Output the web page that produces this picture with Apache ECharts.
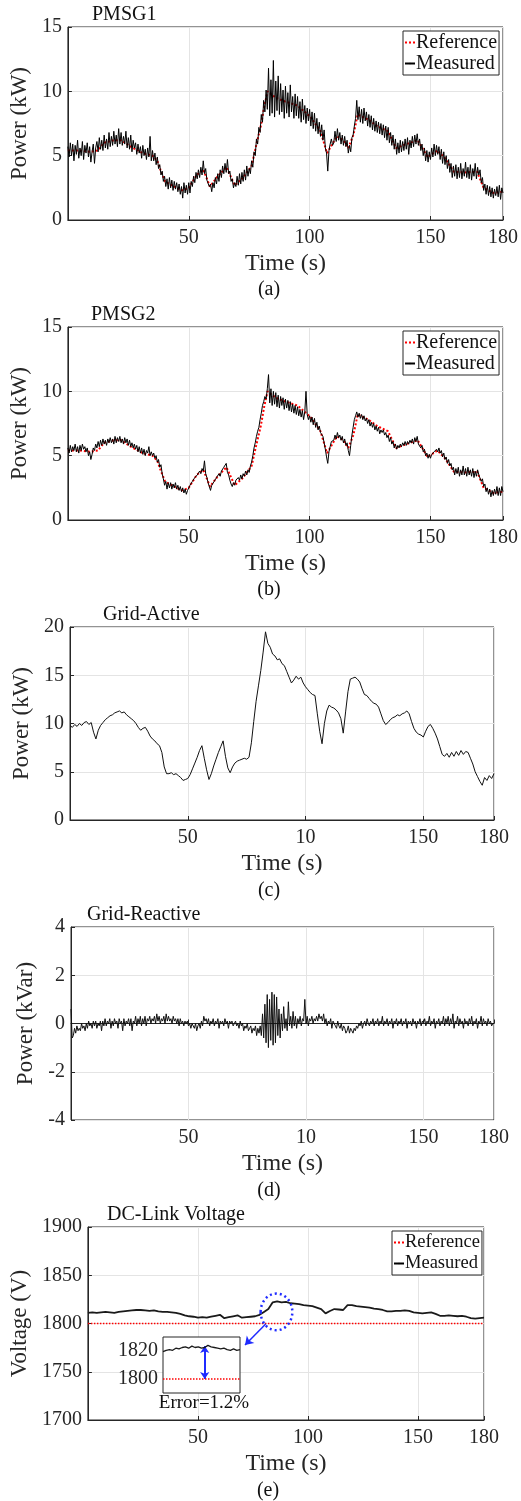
<!DOCTYPE html>
<html>
<head>
<meta charset="utf-8">
<script src="https://cdn.jsdelivr.net/npm/echarts@6/dist/echarts.min.js"></script>
<style>
  html, body { margin: 0; padding: 0; background: #fff; }
  #main { width: 521px; height: 1501px; }
</style>
</head>
<body>
<div id="main"></div>
<script>
// sample spacing of the traces (s)
const NOISY_STEP = 0.5;   // PMSG1, PMSG2, reactive
const ACTIVE_STEP = 1;    // grid active
const DC_STEP = 2;

// PMSG power reference (same for both generators)
const pmsgRefTime  = [0, 5, 9, 12.4, 15, 19, 22, 26, 31, 35, 37, 38.3, 40.2, 42, 45, 47.2, 50, 53.3, 56, 58.8, 62, 65.6, 69, 72, 74.5, 76, 77.9, 79.8, 81.2, 82.6, 86, 90, 95, 100.4, 104.5, 107.2, 111.3, 114, 116, 118.1, 119.9, 124.3, 128, 132.4, 135.8, 140, 144.7, 148.8, 152.9, 156, 159.7, 164, 169.3, 172, 176, 180];
const pmsgRefPower = [5.4, 5.4, 5.3, 5.4, 6.0, 6.2, 6.2, 5.7, 5.2, 5.0, 4.6, 3.9, 3.0, 2.8, 2.5, 2.3, 2.5, 3.5, 3.9, 2.6, 3.4, 4.1, 2.7, 3.2, 3.8, 4.2, 5.8, 7.3, 8.8, 10.0, 9.5, 9.2, 8.9, 8.0, 6.9, 5.2, 6.5, 6.2, 5.6, 6.6, 8.2, 7.8, 7.3, 6.9, 5.6, 5.9, 6.2, 4.9, 5.4, 4.8, 3.75, 3.7, 3.75, 2.5, 2.1, 2.2];

// measured PMSG1 power, kW, every 0.5 s (one row = 5 s)
const pmsg1Measured = [
  5.7, 4.9, 6.0, 5.0, 5.9, 4.6, 5.8, 5.1, 6.2, 4.8,
  5.6, 5.0, 6.1, 4.7, 5.8, 5.2, 6.0, 4.9, 5.7, 4.5,
  5.3, 5.9, 4.4, 5.6, 6.1, 5.3, 6.4, 5.5, 6.2, 5.4,
  6.6, 5.6, 6.3, 5.5, 6.8, 5.7, 6.5, 5.8, 6.9, 5.9,
  6.6, 5.7, 7.1, 5.9, 6.8, 5.8, 6.5, 5.9, 6.9, 5.6,
  6.4, 5.5, 6.6, 5.3, 6.2, 5.6, 6.0, 5.1, 5.9, 5.2,
  5.7, 4.8, 5.8, 5.0, 5.5, 4.7, 5.6, 4.9, 6.5, 4.6,
  5.4, 4.6, 5.2, 4.3, 4.9, 4.0, 4.3, 3.5, 3.8, 3.0,
  3.4, 2.6, 3.2, 2.4, 3.3, 2.5, 3.1, 2.3, 3.0, 2.4,
  2.9, 2.2, 2.8, 2.0, 2.6, 1.7, 2.9, 2.1, 2.7, 2.0,
  2.9, 2.1, 3.0, 2.6, 3.4, 2.9, 3.7, 3.2, 3.9, 3.3,
  4.1, 3.5, 4.6, 3.6, 4.0, 3.1, 3.2, 2.6, 2.8, 2.2,
  2.9, 2.5, 3.3, 2.8, 3.6, 3.0, 3.9, 3.3, 4.2, 3.6,
  4.4, 3.7, 4.7, 3.6, 3.8, 3.0, 3.2, 2.5, 2.9, 2.6,
  3.4, 2.7, 3.6, 2.8, 3.7, 3.0, 3.9, 3.1, 4.2, 3.4,
  4.0, 3.6, 4.6, 4.1, 5.3, 5.0, 6.3, 5.9, 7.2, 6.8,
  8.2, 7.6, 9.3, 8.4, 10.1, 8.6, 11.8, 8.1, 10.9, 8.3,
  12.4, 8.0, 10.8, 8.5, 11.2, 8.2, 10.6, 8.4, 10.1, 7.9,
  10.4, 8.3, 9.9, 8.0, 10.5, 8.4, 9.6, 7.9, 9.8, 8.1,
  9.6, 7.9, 9.2, 7.6, 9.4, 7.8, 8.9, 7.5, 8.7, 7.7,
  8.6, 7.3, 8.4, 7.1, 8.3, 6.9, 7.9, 6.7, 7.6, 6.5,
  7.4, 6.2, 7.0, 5.6, 5.2, 3.8, 5.4, 5.9, 6.3, 5.8,
  6.0, 6.9, 6.1, 7.1, 6.2, 6.8, 5.9, 6.6, 5.8, 6.5,
  5.7, 6.2, 5.2, 5.8, 5.3, 6.4, 6.6, 7.3, 7.9, 9.3,
  7.8, 8.8, 7.6, 8.6, 7.5, 8.7, 7.7, 8.4, 7.3, 8.2,
  7.2, 8.1, 7.0, 7.9, 6.9, 7.7, 6.8, 7.6, 6.7, 7.5,
  6.6, 7.4, 6.4, 7.3, 6.2, 7.2, 6.0, 6.8, 5.8, 6.6,
  5.5, 6.3, 5.1, 6.0, 5.2, 6.2, 5.3, 6.1, 5.4, 6.3,
  5.5, 6.4, 5.1, 6.2, 5.6, 6.5, 5.7, 6.6, 5.9, 6.7,
  5.8, 6.3, 5.4, 5.9, 5.0, 5.6, 4.6, 5.4, 4.5, 5.3,
  4.7, 5.6, 4.9, 5.9, 5.0, 5.8, 5.1, 5.7, 4.7, 5.5,
  4.4, 5.3, 4.3, 5.0, 4.0, 4.7, 3.7, 4.4, 3.3, 4.2,
  3.4, 4.3, 3.2, 4.1, 3.3, 4.4, 3.2, 4.0, 3.4, 4.5,
  3.3, 4.1, 3.2, 4.3, 3.1, 4.0, 3.4, 4.4, 3.2, 4.1,
  3.5, 3.9, 2.9, 3.3, 2.3, 2.8, 2.0, 2.7, 1.9, 2.6,
  1.8, 2.5, 1.7, 2.4, 1.9, 2.6, 1.8, 2.7, 1.6, 2.5,
  2.1
];

// measured PMSG2 power, kW, every 0.5 s
const pmsg2Measured = [
  5.6, 5.2, 5.8, 5.3, 5.7, 5.4, 5.9, 5.3, 5.7, 5.2,
  5.8, 5.4, 5.9, 5.5, 5.7, 5.3, 5.6, 5.0, 5.3, 4.7,
  5.1, 5.6, 5.4, 5.9, 5.6, 6.1, 5.7, 6.2, 5.8, 6.3,
  5.9, 6.2, 5.8, 6.3, 6.0, 6.4, 6.0, 6.3, 5.9, 6.5,
  6.0, 6.4, 6.1, 6.5, 6.0, 6.3, 5.9, 6.4, 6.0, 6.3,
  5.8, 6.2, 5.7, 6.0, 5.6, 5.9, 5.5, 5.8, 5.3, 5.7,
  5.2, 5.6, 5.1, 5.5, 5.0, 5.4, 5.2, 5.7, 5.0, 5.3,
  5.0, 5.2, 4.8, 5.0, 4.5, 4.7, 4.1, 4.3, 3.6, 3.2,
  2.7, 3.0, 2.4, 2.9, 2.5, 2.9, 2.4, 2.8, 2.5, 2.9,
  2.4, 2.7, 2.3, 2.6, 2.2, 2.5, 2.1, 2.4, 2.0, 2.3,
  2.3, 2.7, 2.6, 3.0, 2.9, 3.3, 3.2, 3.5, 3.4, 3.8,
  3.6, 4.0, 3.8, 4.6, 3.6, 3.3, 2.9, 2.6, 2.3, 2.7,
  2.6, 3.0, 2.9, 3.3, 3.2, 3.6, 3.4, 3.8, 3.7, 4.1,
  4.0, 4.4, 3.7, 3.5, 3.1, 2.8, 2.6, 2.9, 2.7, 3.1,
  3.0, 3.3, 3.1, 3.5, 3.2, 3.6, 3.4, 3.8, 3.5, 3.9,
  3.7, 4.2, 4.5, 5.0, 5.6, 6.0, 6.5, 6.9, 7.2, 7.8,
  8.3, 8.9, 9.2, 9.6, 9.4, 10.2, 11.3, 9.1, 10.2, 8.9,
  10.0, 9.0, 9.9, 8.8, 9.7, 8.7, 9.6, 8.9, 9.5, 8.6,
  9.4, 8.7, 9.3, 8.5, 9.2, 8.4, 9.0, 8.3, 8.9, 8.2,
  8.8, 8.1, 8.6, 8.0, 8.5, 7.8, 8.4, 10.0, 8.2, 7.8,
  8.1, 7.6, 8.0, 7.4, 7.9, 7.2, 7.6, 7.0, 7.3, 6.8,
  6.9, 6.5, 6.0, 5.5, 4.9, 4.4, 5.3, 5.7, 6.1, 6.0,
  6.2, 6.6, 6.3, 6.8, 6.4, 6.6, 6.2, 6.5, 6.0, 6.3,
  5.8, 6.0, 5.4, 5.0, 5.8, 6.6, 7.2, 7.8, 8.1, 8.4,
  8.0, 8.3, 7.9, 8.2, 7.8, 8.1, 7.7, 7.9, 7.5, 7.8,
  7.3, 7.6, 7.2, 7.5, 7.0, 7.3, 6.9, 7.2, 6.7, 7.0,
  6.8, 7.0, 6.6, 6.8, 6.4, 6.6, 6.1, 6.4, 5.9, 6.1,
  5.6, 5.9, 5.5, 5.8, 5.6, 5.9, 5.7, 6.0, 5.8, 6.1,
  5.8, 6.1, 5.9, 6.2, 6.0, 6.3, 5.9, 6.4, 6.1, 6.5,
  5.9, 6.0, 5.6, 5.8, 5.3, 5.5, 5.0, 5.2, 4.8, 5.1,
  4.8, 5.1, 5.0, 5.3, 5.2, 5.5, 5.3, 5.6, 5.2, 5.4,
  4.9, 5.2, 4.7, 4.9, 4.4, 4.7, 4.2, 4.4, 3.9, 4.1,
  3.5, 4.0, 3.6, 4.1, 3.4, 3.9, 3.5, 4.2, 3.5, 4.0,
  3.4, 4.1, 3.5, 3.9, 3.4, 4.0, 3.3, 3.8, 3.4, 3.9,
  3.5, 3.6, 3.0, 3.2, 2.6, 2.8, 2.2, 2.5, 2.0, 2.4,
  1.8, 2.3, 1.9, 2.4, 2.0, 2.6, 1.9, 2.5, 1.9, 2.6,
  2.2
];

// grid active power, kW, every 1 s
const gridActive = [
  9.8, 9.6, 9.9, 9.7, 10.0, 9.8, 10.1, 10.2, 9.9, 10.1,
  9.1, 8.4, 9.3, 9.8, 10.1, 10.4, 10.6, 10.8, 10.9, 11.1,
  11.2, 11.3, 11.1, 11.2, 10.9, 10.7, 10.5, 10.3, 10.0, 9.6,
  9.3, 9.5, 9.6, 9.2, 8.7, 8.4, 8.2, 7.9, 7.7, 7.0,
  5.5, 4.8, 4.8, 4.9, 4.7, 4.8, 4.6, 4.4, 4.1, 4.2,
  4.3, 4.7, 5.3, 5.9, 6.5, 7.2, 7.7, 6.4, 5.2, 4.2,
  4.8, 5.6, 6.3, 7.0, 7.6, 8.2, 6.6, 5.4, 4.9, 5.5,
  5.9, 6.1, 6.2, 6.3, 6.4, 6.3, 6.5, 8.0, 10.2, 12.3,
  13.9, 15.5, 17.4, 19.5, 18.3, 17.9, 17.2, 17.0, 16.6, 16.7,
  16.2, 16.0, 15.4, 14.8, 14.2, 14.5, 14.9, 14.6, 14.8, 14.2,
  13.8, 13.5, 13.2, 13.0, 12.9, 11.0, 9.2, 7.9, 10.0, 11.3,
  11.9, 11.7, 11.6, 11.4, 11.1, 10.5, 9.0, 11.2, 13.3, 14.6,
  14.7, 14.8, 14.6, 14.3, 13.6, 13.0, 12.9, 12.6, 12.3, 12.1,
  12.0, 11.7, 11.0, 10.3, 9.9, 10.1, 10.4, 10.6, 10.7, 10.9,
  10.8, 11.0, 11.1, 11.3, 11.0, 10.2, 9.5, 9.1, 8.9, 8.8,
  8.6, 9.2, 9.7, 9.9, 9.5, 9.0, 8.4, 7.6, 6.8, 6.6,
  6.9, 6.5, 7.0, 6.6, 7.1, 6.7, 7.2, 6.8, 7.1, 7.0,
  6.4, 5.8, 5.0, 4.5, 4.0, 3.6, 4.4, 4.1, 4.6, 4.3,
  4.8
];

// grid reactive power, kVar, every 0.5 s
const gridReactive = [
  0.6, -0.6, -0.5, -0.2, -0.4, -0.1, -0.3, -0.2, -0.3, 0.0,
  -0.2, -0.1, -0.3, 0.0, -0.2, 0.1, -0.1, 0.0, -0.2, 0.1,
  -0.1, 0.1, -0.2, 0.0, -0.1, 0.1, -0.3, 0.1, -0.1, 0.2,
  -0.1, 0.1, 0.0, 0.2, -0.2, 0.1, -0.1, 0.2, 0.0, 0.1,
  -0.2, 0.2, 0.0, 0.1, -0.3, 0.2, -0.1, 0.1, 0.0, 0.2,
  -0.1, 0.2, -0.3, 0.1, 0.0, 0.3, -0.1, 0.2, 0.0, 0.3,
  -0.1, 0.2, 0.0, 0.3, -0.1, 0.2, 0.1, 0.3, 0.0, 0.2,
  0.1, 0.3, 0.0, 0.4, 0.1, 0.3, 0.0, 0.2, 0.1, 0.3,
  0.0, 0.4, 0.1, 0.3, 0.1, 0.2, 0.0, 0.3, 0.1, 0.2,
  0.0, 0.2, -0.1, 0.2, 0.0, 0.1, -0.1, 0.1, 0.0, 0.1,
  -0.1, 0.0, -0.2, 0.0, -0.1, -0.2, 0.0, -0.3, -0.1, 0.0,
  -0.2, 0.1, -0.1, 0.3, 0.1, 0.2, 0.0, 0.2, -0.1, 0.1,
  0.0, 0.2, -0.1, 0.1, 0.0, 0.2, -0.2, 0.1, 0.0, 0.1,
  -0.1, 0.2, 0.0, 0.1, -0.2, 0.1, 0.0, 0.1, -0.1, 0.0,
  0.1, -0.1, 0.0, -0.2, 0.1, -0.1, 0.0, -0.3, -0.1, -0.2,
  0.0, -0.3, -0.2, -0.1, -0.4, -0.2, -0.3, -0.1, -0.5, -0.2,
  -0.4, -0.1, -0.5, 0.4, -0.6, 0.8, -0.8, 1.2, -1.0, 1.0,
  -0.7, 1.3, -0.9, 1.2, -0.8, 1.1, -0.5, 0.6, -0.6, 0.4,
  -0.3, 0.7, -0.2, 0.2, -0.3, 0.9, -0.1, 0.3, -0.2, 0.5,
  -0.1, 0.3, -0.2, 0.2, 0.0, 0.3, -0.1, 0.2, 0.1, 1.0,
  0.0, 0.3, -0.1, 0.2, 0.1, 0.3, 0.0, 0.2, 0.1, 0.3,
  0.1, 0.4, 0.2, 0.3, 0.1, 0.4, 0.0, 0.2, -0.1, 0.1,
  0.0, 0.2, -0.2, 0.1, 0.0, -0.1, -0.2, 0.1, -0.1, -0.2,
  0.0, -0.3, -0.1, -0.2, -0.4, -0.3, -0.1, -0.4, -0.2, -0.3,
  -0.4, -0.2, -0.3, -0.1, -0.2, 0.0, -0.1, 0.1, -0.2, 0.0,
  0.1, -0.1, 0.2, 0.0, -0.1, 0.1, 0.0, 0.2, -0.1, 0.1,
  0.0, 0.2, -0.1, 0.1, 0.0, 0.3, -0.1, 0.1, 0.0, 0.2,
  -0.1, 0.1, 0.0, 0.2, -0.2, 0.1, 0.0, 0.2, -0.1, 0.1,
  0.0, 0.2, -0.1, 0.1, 0.0, 0.2, -0.2, 0.1, 0.0, 0.1,
  -0.1, 0.2, 0.0, 0.1, -0.2, 0.1, 0.0, 0.2, -0.1, 0.1,
  0.0, 0.2, -0.1, 0.1, 0.0, 0.3, -0.1, 0.1, 0.0, 0.2,
  -0.2, 0.1, 0.0, 0.2, -0.1, 0.1, 0.0, 0.3, -0.1, 0.2,
  0.0, 0.3, -0.1, 0.2, 0.0, 0.4, -0.2, 0.1, 0.0, 0.3,
  -0.1, 0.2, 0.0, 0.1, -0.2, 0.2, 0.0, 0.1, -0.1, 0.2,
  0.0, 0.3, -0.1, 0.1, 0.0, 0.2, -0.2, 0.1, 0.0, 0.3,
  -0.1, 0.2, 0.0, 0.1, -0.1, 0.2, 0.0, 0.1, -0.1, 0.0,
  0.0
];

// DC-link voltage, V, every 2 s
const dcRefTime = [0, 180];
const dcRefVoltage = [1800, 1800];
const dcMeasured = [
  1811, 1811.5, 1811, 1811.5, 1812, 1811.5, 1811, 1812, 1812.5, 1813,
  1813.5, 1814, 1814, 1813.5, 1813, 1813.5, 1812.5, 1812, 1812, 1811.5,
  1811, 1810, 1808.5, 1807.5, 1807, 1806, 1806.5, 1806, 1807, 1808,
  1809, 1805.5, 1806.5, 1807.5, 1808.5, 1806, 1806.5, 1807, 1807.5, 1809,
  1812, 1815, 1822, 1823, 1822, 1822.5, 1821, 1820.5, 1820, 1819,
  1818.5, 1818, 1816.5, 1815, 1810.5, 1813, 1815, 1814.5, 1814, 1819,
  1819, 1818, 1817.5, 1817, 1816.5, 1815.5, 1815, 1814, 1812.5, 1812.5,
  1813, 1813, 1813.5, 1813, 1811.5, 1811, 1810.5, 1811, 1811.5, 1810,
  1808, 1808, 1808.5, 1808, 1807.5, 1808, 1807, 1805.5, 1805, 1805.5,
  1806
];

// zoomed inset
const insetMeasured = [1819.5, 1820.5, 1821, 1820.5, 1822, 1821.5, 1822.5, 1823, 1822, 1823.5, 1822.5, 1823, 1822, 1822.5, 1824, 1823, 1822.5, 1822, 1821.5, 1822, 1821, 1820.5, 1821.5, 1820.5, 1821];
const insetRefX = [0, 24];
const insetRefVoltage = [1800, 1800];
const errorArrow = [[13, 1823.5], [13, 1800]];
const zoomRingCenter = [85.7, 1812];
const zoomRingRadius = [7.2, 19];
const calloutArrow = [[80.8, 1799.5], [71.4, 1777.7]];

const FONT = 'Liberation Serif';
const INK = '#262626';

const series = (values, step) => values.map((v, i) => [i * step, v]);
const zip = (xs, ys) => xs.map((x, i) => [x, ys[i]]);

const chart = echarts.init(document.getElementById('main'));

const grids = [
  { left: 63, top: 27, width: 440, height: 193 },
  { left: 63, top: 327, width: 440, height: 193 },
  { left: 70, top: 627, width: 424, height: 193 },
  { left: 71, top: 927, width: 423, height: 193 },
  { left: 81, top: 1227, width: 403, height: 193 }
].map(g => ({ ...g, show: true, borderColor: INK, borderWidth: 1, backgroundColor: 'transparent' }));
grids.push({ left: 163, top: 1337, width: 77, height: 56, show: true, borderColor: INK, borderWidth: 1, backgroundColor: '#fff', z: 3 });

function timeAxis(idx, typo) {
  return {
    type: 'value', gridIndex: idx, min: 0, max: 180, interval: 50,
    axisLine: { lineStyle: { color: INK } },
    axisTick: { inside: true, length: 4, lineStyle: { color: INK } },
    splitLine: { show: true, lineStyle: { color: '#e4e4e4' } },
    axisLabel: {
      fontFamily: FONT, fontSize: 20, color: INK, margin: 8,
      formatter: v => v === 0 ? '' : (typo && v === 100 ? '10' : String(v))
    },
    name: 'Time (s)', nameLocation: 'middle', nameGap: 32,
    nameTextStyle: { fontFamily: FONT, fontSize: 24, color: INK }
  };
}

function valueAxis(idx, min, max, interval, name, gap) {
  return {
    type: 'value', gridIndex: idx, min: min, max: max, interval: interval,
    axisLine: { show: true, lineStyle: { color: INK } },
    axisTick: { show: true, inside: true, length: 4, lineStyle: { color: INK } },
    splitLine: { show: true, lineStyle: { color: '#e4e4e4' } },
    axisLabel: { fontFamily: FONT, fontSize: 20, color: INK, margin: 6, formatter: v => String(v) },
    name: name, nameLocation: 'middle', nameGap: gap,
    nameTextStyle: { fontFamily: FONT, fontSize: 23, color: INK }
  };
}

const xAxes = [timeAxis(0), timeAxis(1), timeAxis(2, true), timeAxis(3, true), timeAxis(4),
  { type: 'value', gridIndex: 5, min: 0, max: 24, z: 4, axisLine: { show: false }, axisTick: { show: false },
    axisLabel: { show: false }, splitLine: { show: false } }];

const yAxes = [
  valueAxis(0, 0, 15, 5, 'Power (kW)', 30),
  valueAxis(1, 0, 15, 5, 'Power (kW)', 30),
  valueAxis(2, 0, 20, 5, 'Power (kW)', 30),
  valueAxis(3, -4, 4, 2, 'Power (kVar)', 28),
  valueAxis(4, 1700, 1900, 50, 'Voltage (V)', 51),
  { type: 'value', gridIndex: 5, min: 1790, max: 1830, interval: 10, z: 4,
    axisLine: { show: false }, axisTick: { show: false }, splitLine: { show: false },
    axisLabel: { fontFamily: FONT, fontSize: 20, color: INK, margin: 5,
      formatter: v => (v === 1800 || v === 1820) ? String(v) : '' } }
];

const refStyle = { color: '#ff0000', width: 2, type: 'dotted' };
const measStyle = { color: '#000', width: 1 };

function line(name, idx, data, style, z) {
  return { type: 'line', name: name, xAxisIndex: idx, yAxisIndex: idx, data: data,
    symbol: 'none', lineStyle: style, itemStyle: { color: style.color }, z: z, silent: true };
}

const allSeries = [
  line('Reference', 0, zip(pmsgRefTime, pmsgRefPower), refStyle, 2),
  line('Measured', 0, series(pmsg1Measured, NOISY_STEP), measStyle, 3),
  line('Reference', 1, zip(pmsgRefTime, pmsgRefPower), refStyle, 2),
  line('Measured', 1, series(pmsg2Measured, NOISY_STEP), measStyle, 3),
  line('Grid active', 2, series(gridActive, ACTIVE_STEP), { color: '#111', width: 1 }, 3),
  line('Grid reactive', 3, series(gridReactive, NOISY_STEP), { color: '#111', width: 1 }, 3),
  line('Reference', 4, zip(dcRefTime, dcRefVoltage), { color: '#ff0000', width: 1.5, type: 'dotted' }, 2),
  Object.assign(line('Measured', 4, series(dcMeasured, DC_STEP), { color: '#1a1a1a', width: 1.8 }, 3), {
    markLine: {
      silent: true, symbol: ['none', 'arrow'], symbolSize: 8, animation: false,
      label: { show: false },
      lineStyle: { color: '#1f2bff', width: 1.5, type: 'solid' },
      data: [[{ coord: calloutArrow[0] }, { coord: calloutArrow[1] }]]
    }
  }),
  line('Inset ref', 5, zip(insetRefX, insetRefVoltage), { color: '#ff0000', width: 1.5, type: 'dotted' }, 5),
  Object.assign(line('Inset measured', 5, series(insetMeasured, 1), { color: '#1a1a1a', width: 1.3 }, 5), {
    markLine: {
      silent: true, symbol: ['arrow', 'arrow'], symbolSize: 7, animation: false,
      label: { show: false },
      lineStyle: { color: '#1f2bff', width: 2, type: 'solid' },
      data: [[{ coord: errorArrow[0] }, { coord: errorArrow[1] }]]
    }
  })
];

function legendAt(left, top, size) {
  return {
    orient: 'vertical', left: left, top: top, data: ['Reference', 'Measured'],
    itemWidth: 10, itemHeight: 2, itemGap: 0, padding: [1, 2, 1, 1],
    backgroundColor: '#fff', borderColor: INK, borderWidth: 1,
    selectedMode: false,
    textStyle: { fontFamily: FONT, fontSize: size, color: '#111', padding: [0, 0, 0, -4], lineHeight: 21 }
  };
}

chart.setOption({
  animation: false,
  backgroundColor: '#fff',
  grid: grids,
  xAxis: xAxes,
  yAxis: yAxes,
  legend: [legendAt(403, 31, 20), legendAt(403, 331, 20), legendAt(392, 1231, 18.5)],
  series: allSeries
});

function txt(text, x, y, size, align) {
  return { type: 'text', x: x, y: y, z: 10, silent: true,
    style: { text: text, font: size + 'px "' + FONT + '"', fill: '#111', textAlign: align || 'left', textVerticalAlign: 'middle' } };
}

const c = chart.convertToPixel({ xAxisIndex: 4, yAxisIndex: 4 }, zoomRingCenter);
const e = chart.convertToPixel({ xAxisIndex: 4, yAxisIndex: 4 }, [zoomRingCenter[0] + zoomRingRadius[0], zoomRingCenter[1] + zoomRingRadius[1]]);

chart.setOption({
  graphic: [
    txt('PMSG1', 92, 15, 20),
    txt('PMSG2', 91, 315, 20),
    txt('Grid-Active', 103, 615, 20),
    txt('Grid-Reactive', 87, 915, 20),
    txt('DC-Link Voltage', 107, 1215, 20),
    txt('(a)', 269, 290, 20, 'center'),
    txt('(b)', 269, 590, 20, 'center'),
    txt('(c)', 269, 891, 20, 'center'),
    txt('(d)', 269, 1191, 20, 'center'),
    txt('(e)', 268, 1491, 20, 'center'),
    txt('Error=1.2%', 204, 1403, 19, 'center'),
    { type: 'ellipse', z: 10, silent: true,
      shape: { cx: c[0], cy: c[1], rx: Math.abs(e[0] - c[0]), ry: Math.abs(c[1] - e[1]) },
      style: { fill: 'none', stroke: '#1f2bff', lineWidth: 2.5, lineDash: [2, 3] } }
  ]
});
</script>
</body>
</html>
